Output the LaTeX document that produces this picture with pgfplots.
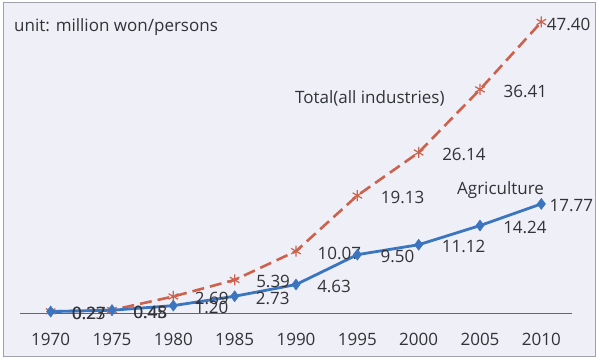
\documentclass[border=0pt]{standalone}
\usepackage{pgfplots}
\pgfplotsset{compat=1.18}
\usepackage{pgfplotstable}
\usepackage{fontspec}
\setmainfont{Open Sans}
\definecolor{bgc}{RGB}{239,239,247}
\definecolor{framec}{RGB}{160,160,168}
\definecolor{totc}{RGB}{205,98,76}
\definecolor{agrc}{RGB}{59,117,192}
\definecolor{txtc}{RGB}{50,50,55}
\newcommand{\chfont}{\fontsize{17bp}{20bp}\selectfont}
\pgfplotstableread{
x y lab dx
1970 0.27 0.27 19
1975 0.48 0.48 19
1980 2.69 2.69 19
1985 5.39 5.39 19
1990 10.07 10.07 19
1995 19.13 19.13 21
2000 26.14 26.14 21
2005 36.41 36.41 21
2010 47.40 47.40 3
}\total
\pgfplotstableread{
x y lab dx
1970 0.23 0.23 19
1975 0.45 0.45 19
1980 1.20 1.20 19
1985 2.73 2.73 19
1990 4.63 4.63 19
1995 9.50 9.50 21
2000 11.12 11.12 21
2005 14.24 14.24 21
2010 17.77 17.77 6
}\agri
\begin{document}
\begin{tikzpicture}
\fill[white] (0,0) rectangle (600bp,360bp);
\fill[bgc] (3bp,4bp) rectangle (595bp,358bp);
\draw[framec, line width=0.8bp] (3bp,4bp) rectangle (595bp,358bp);
\begin{axis}[
  at={(20bp,47bp)}, anchor=south west,
  scale only axis, width=552bp, height=307bp,
  xmin=1967.5, xmax=2012.5, ymin=0, ymax=50,
  axis lines=none,
  clip=false,
  font=\chfont\color{txtc},
  xtick=\empty,
  ytick=\empty,
  point meta=explicit symbolic,
  nodes near coords,
  visualization depends on={\thisrow{dx}\as\dx},
  every node near coord/.append style={anchor=west, inner sep=2bp, xshift=\dx bp, yshift=-2bp, text=txtc, font=\chfont},
]
\draw[gray!80!black, line width=0.9bp] (axis cs:1967.5,0) -- (axis cs:2012.5,0);
\foreach \yr in {1970,1975,...,2010} {
  \edef\tmp{\noexpand\node[anchor=north, inner sep=0pt, text=txtc, font=\noexpand\chfont] at (axis cs:\yr,0) [yshift=-20bp] {\yr};}
  \tmp
}
\addplot[totc, line width=2.6bp, dash pattern=on 12bp off 6bp,
  mark=asterisk, mark size=5.5bp, mark options={solid, line width=1.2bp, totc}]
  table[x=x, y=y, meta=lab] {\total};
\addplot[agrc, line width=2.8bp, mark=diamond*, mark size=5.5bp,
  mark options={solid, fill=agrc, draw=agrc, line width=0.5bp}]
  table[x=x, y=y, meta=lab] {\agri};
\end{axis}
\node[anchor=west, inner sep=0pt, text=txtc, font=\chfont] at (14bp,333bp) {unit: million won/persons};
\node[anchor=west, inner sep=0pt, text=txtc, font=\chfont] at (295bp,262bp) {Total(all industries)};
\node[anchor=west, inner sep=0pt, text=txtc, font=\chfont] at (457bp,170bp) {Agriculture};
\end{tikzpicture}
\end{document}
